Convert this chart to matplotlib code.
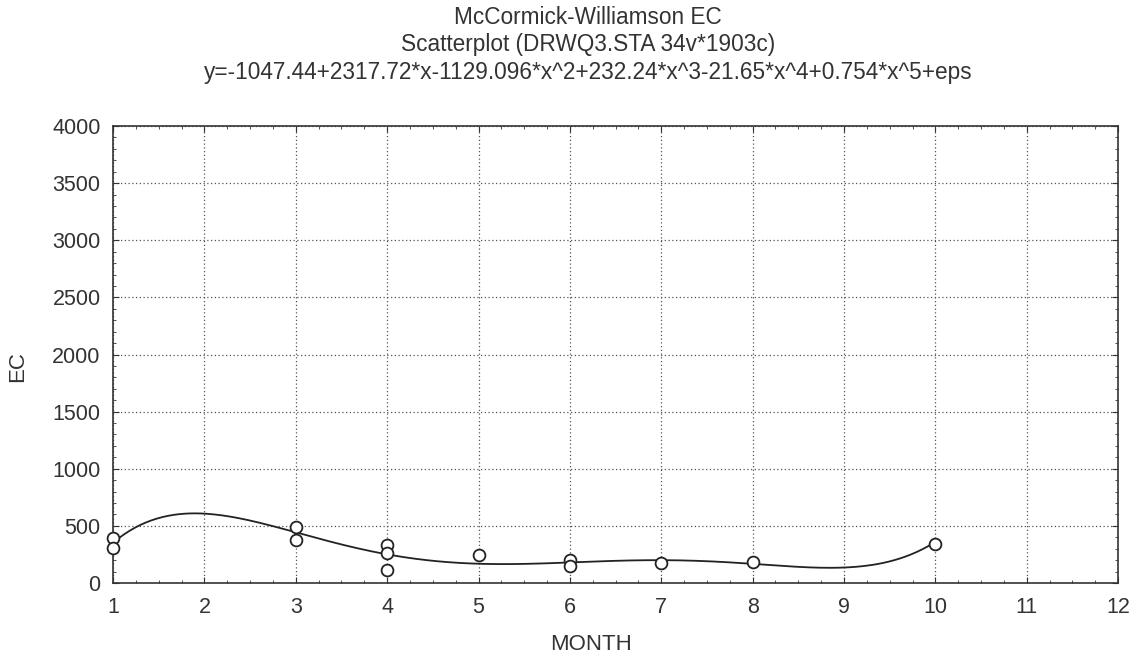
import numpy as np
import matplotlib.pyplot as plt

plt.rcParams['font.family'] = ['Liberation Sans', 'DejaVu Sans']

# observed points
month = [1, 1, 3, 3, 4, 4, 4, 5, 6, 6, 7, 8, 10]
ec = [390, 310, 490, 380, 330, 260, 115, 245, 200, 150, 172, 187, 340]

# fitted polynomial coefficients (constant term first), as printed in the title
coef = [-1047.44, 2317.72, -1129.096, 232.24, -21.65, 0.754]

titles = ['McCormick-Williamson EC',
          'Scatterplot (DRWQ3.STA 34v*1903c)',
          'y=-1047.44+2317.72*x-1129.096*x^2+232.24*x^3-21.65*x^4+0.754*x^5+eps']

txt = '#333333'

fig = plt.figure(figsize=(11.43, 6.62), dpi=100)
ax = fig.add_axes([0.0989, 0.1193, 0.8793, 0.6904])

xs = np.linspace(1, 10, 300)
ys = np.polynomial.polynomial.polyval(xs, coef)
ax.plot(xs, ys, color='#222222', lw=1.3, zorder=3)
ax.plot(month, ec, 'o', ms=8.5, mfc='white', mec='#222222', mew=1.3, zorder=4,
        clip_on=False)

ax.set_xlim(1, 12)
ax.set_ylim(0, 4000)
ax.set_xticks(range(1, 13))
ax.set_yticks(range(0, 4001, 500))
ax.set_xticks(np.arange(1, 12.01, 0.25), minor=True)
ax.set_yticks(range(0, 4001, 100), minor=True)
ax.tick_params(which='both', direction='in', top=True, right=True, colors=txt)
ax.tick_params(which='major', length=4, labelsize=15.5)
ax.tick_params(axis='x', which='major', pad=10)
ax.tick_params(axis='y', which='major', pad=9)
ax.tick_params(which='minor', length=2.5)
ax.grid(True, which='major', linestyle=(0, (1, 2)), color='#555555', lw=0.9)
for s in ax.spines.values():
    s.set_color(txt)
    s.set_linewidth(1.2)

fig.text(0.517, 0.026, 'MONTH', ha='center', va='center', fontsize=16, color=txt)
fig.text(0.0157, 0.447, 'EC', ha='center', va='center', rotation=90,
         fontsize=16, color=txt)

for t, yy in zip(titles, [0.974, 0.9335, 0.891]):
    fig.text(0.5145, yy, t, ha='center', va='center', fontsize=16.3, color=txt)

fig.savefig('out.png', dpi=100)
